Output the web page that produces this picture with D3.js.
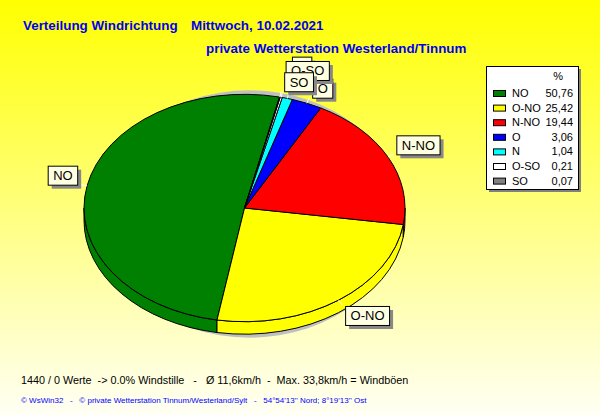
<!DOCTYPE html>
<html>
<head>
<meta charset="utf-8">
<script src="https://cdn.jsdelivr.net/npm/d3@7/dist/d3.min.js"></script>
<style>
  body { margin: 0; }
  svg { display: block; }
  text { font-family: "Liberation Sans", Arial, sans-serif; }
</style>
</head>
<body>
<div id="chart"></div>
<script>
// wind direction shares (percent), in the order the legend lists them
const categories = ['NO', 'O-NO', 'N-NO', 'O', 'N', 'O-SO', 'SO']
const shares = [50.76, 25.42, 19.44, 3.06, 1.04, 0.21, 0.07]
const colors = ['#008000', '#ffff00', '#ff0000', '#0000ff', '#00ffff', '#ffffff', '#808080']

const titleText = 'Verteilung Windrichtung'
const dateText = 'Mittwoch, 10.02.2021'
const stationText = 'private Wetterstation Westerland/Tinnum'
const statsText = '1440 / 0 Werte  -> 0.0% Windstille   -   Ø 11,6km/h  -  Max. 33,8km/h = Windböen'
const footerText = '© WsWin32   -   © private Wetterstation Tinnum/Westerland/Sylt   -   54°54\'13\'\' Nord; 8°19\'13\'\' Ost'

const W = 600
const H = 415

// pie geometry (ellipse seen at an angle, with a thin side wall)
const cx = 244.5
const cy = 208
const rx = 160.5
const ry = 113.7
const depth = 12.5
const rad = Math.PI / 180
const startAngle = 12.6 * rad

// crowded small slices get their label boxes lifted a bit
const labelLift = { N: 17, 'O-SO': 11.5 }

const data = categories.map((c, i) => ({ name: c, value: shares[i], color: colors[i] }))
const fmt = v => d3.format('.2f')(v).replace('.', ',')

const svg = d3.select('#chart')
  .append('svg')
  .attr('width', W)
  .attr('height', H)

// background gradient
const grad = svg.append('defs').append('linearGradient')
  .attr('id', 'bg')
  .attr('x1', 0).attr('y1', 0).attr('x2', 0).attr('y2', 1)
grad.append('stop').attr('offset', '0%').attr('stop-color', '#ffff00')
grad.append('stop').attr('offset', '45%').attr('stop-color', '#ffff70')
grad.append('stop').attr('offset', '100%').attr('stop-color', '#fffff4')
svg.append('rect').attr('width', W).attr('height', H).attr('fill', 'url(#bg)')

// titles
svg.append('text')
  .attr('x', 23).attr('y', 30)
  .attr('font-size', 13.4).attr('font-weight', 'bold').attr('fill', '#0000f0')
  .text(titleText)
svg.append('text')
  .attr('x', 191).attr('y', 30)
  .attr('font-size', 13.4).attr('font-weight', 'bold').attr('fill', '#0000f0')
  .text(dateText)
svg.append('text')
  .attr('x', 206).attr('y', 53)
  .attr('font-size', 13.4).attr('font-weight', 'bold').attr('fill', '#0000f0')
  .text(stationText)

// shadow under the pie
svg.append('ellipse')
  .attr('cx', cx + 5).attr('cy', cy + 6)
  .attr('rx', rx - 8).attr('ry', ry + 10)
  .attr('fill', '#c0c0c0')

const pie = d3.pie()
  .value(d => d.value)
  .sort(null)
  .startAngle(startAngle)
  .endAngle(startAngle - 2 * Math.PI)
const arcs = pie(data)

// everything inside g is drawn on a circle, squashed to the ellipse
const g = svg.append('g')
  .attr('transform', 'translate(' + cx + ',' + cy + ') scale(1,' + (ry / rx) + ')')
const dS = depth * rx / ry

// side walls: only the front half (angles between 90 and 270 degrees) is visible
const sides = []
arcs.forEach(a => {
  let lo = Math.min(a.startAngle, a.endAngle)
  let hi = Math.max(a.startAngle, a.endAngle)
  const k = Math.floor(lo / (2 * Math.PI))
  lo -= k * 2 * Math.PI
  hi -= k * 2 * Math.PI
  ;[0, 1].forEach(n => {
    const s = Math.max(lo, Math.PI / 2 + n * 2 * Math.PI)
    const e = Math.min(hi, 3 * Math.PI / 2 + n * 2 * Math.PI)
    if (e > s) sides.push({ s: s, e: e, color: a.data.color })
  })
})
g.selectAll('path.side')
  .data(sides)
  .enter()
  .append('path')
  .attr('class', 'side')
  .attr('d', d => {
    const p = d3.path()
    p.moveTo(rx * Math.sin(d.s), -rx * Math.cos(d.s))
    p.arc(0, 0, rx, d.s - Math.PI / 2, d.e - Math.PI / 2, false)
    p.lineTo(rx * Math.sin(d.e), -rx * Math.cos(d.e) + dS)
    p.arc(0, dS, rx, d.e - Math.PI / 2, d.s - Math.PI / 2, true)
    p.closePath()
    return p.toString()
  })
  .attr('fill', d => d.color)
  .attr('stroke', '#000')
  .attr('stroke-width', 1)
  .attr('vector-effect', 'non-scaling-stroke')

// top face
const arc = d3.arc().innerRadius(0).outerRadius(rx)
g.selectAll('path.slice')
  .data(arcs)
  .enter()
  .append('path')
  .attr('class', 'slice')
  .attr('d', arc)
  .attr('fill', d => d.data.color)
  .attr('stroke', '#000')
  .attr('stroke-width', 1)
  .attr('vector-effect', 'non-scaling-stroke')

// labels with white leader lines
function ept (a, dr) {
  return [cx + (rx + dr) * Math.sin(a), cy - (ry + dr) * Math.cos(a)]
}
const labelLayer = svg.append('g')
arcs.forEach(a => {
  const mid = (a.startAngle + a.endAngle) / 2
  const edge = ept(mid, 0)
  const end = ept(mid, 6)
  labelLayer.append('line')
    .attr('x1', edge[0]).attr('y1', edge[1])
    .attr('x2', end[0]).attr('y2', end[1])
    .attr('stroke', '#fff').attr('stroke-width', 1)

  const lbl = labelLayer.append('g')
  const txt = lbl.append('text')
    .attr('font-size', 13)
    .attr('fill', '#000')
    .attr('text-anchor', 'middle')
    .text(a.data.name)
  const w = txt.node().getComputedTextLength() + 10
  const h = 19
  const right = Math.sin(mid) > 0
  const upper = Math.cos(mid) > 0
  const bx = right ? end[0] + 3 : end[0] - 4 - w
  const by = upper ? end[1] - h - (labelLift[a.data.name] || 0) : end[1] + 1
  lbl.insert('rect', 'text')
    .attr('x', bx + 4).attr('y', by + 4)
    .attr('width', w).attr('height', h)
    .attr('fill', '#888')
  lbl.insert('rect', 'text')
    .attr('x', bx + 0.5).attr('y', by + 0.5)
    .attr('width', w).attr('height', h)
    .attr('fill', '#ffffe1').attr('stroke', '#000').attr('stroke-width', 1)
  txt.attr('x', bx + 0.5 + w / 2).attr('y', by + 14.5)
})

// legend
const lg = svg.append('g').attr('transform', 'translate(486,66)')
const lgW = 92
const lgH = 123
lg.append('rect').attr('x', 3).attr('y', 3).attr('width', lgW).attr('height', lgH).attr('fill', '#808080')
lg.append('rect').attr('x', 0.5).attr('y', 0.5).attr('width', lgW).attr('height', lgH)
  .attr('fill', '#fff').attr('stroke', '#000')
lg.append('text')
  .attr('x', 77).attr('y', 14)
  .attr('font-size', 11).attr('text-anchor', 'end')
  .text('%')
const rows = lg.selectAll('g.row')
  .data(data)
  .enter()
  .append('g')
  .attr('class', 'row')
  .attr('transform', (d, i) => 'translate(0,' + (27 + i * 14.6) + ')')
rows.append('rect')
  .attr('x', 7.5).attr('y', -2.5)
  .attr('width', 12).attr('height', 6)
  .attr('fill', d => d.color).attr('stroke', '#000')
rows.append('text')
  .attr('x', 26).attr('y', 4)
  .attr('font-size', 11)
  .text(d => d.name)
rows.append('text')
  .attr('x', 87).attr('y', 4)
  .attr('font-size', 11).attr('text-anchor', 'end')
  .text(d => fmt(d.value))

// footer lines
svg.append('text')
  .attr('x', 21).attr('y', 384)
  .attr('font-size', 10.8).attr('fill', '#000')
  .style('white-space', 'pre')
  .text(statsText)
svg.append('text')
  .attr('x', 21).attr('y', 403)
  .attr('font-size', 8).attr('fill', '#0000ff')
  .style('white-space', 'pre')
  .text(footerText)
</script>
</body>
</html>
